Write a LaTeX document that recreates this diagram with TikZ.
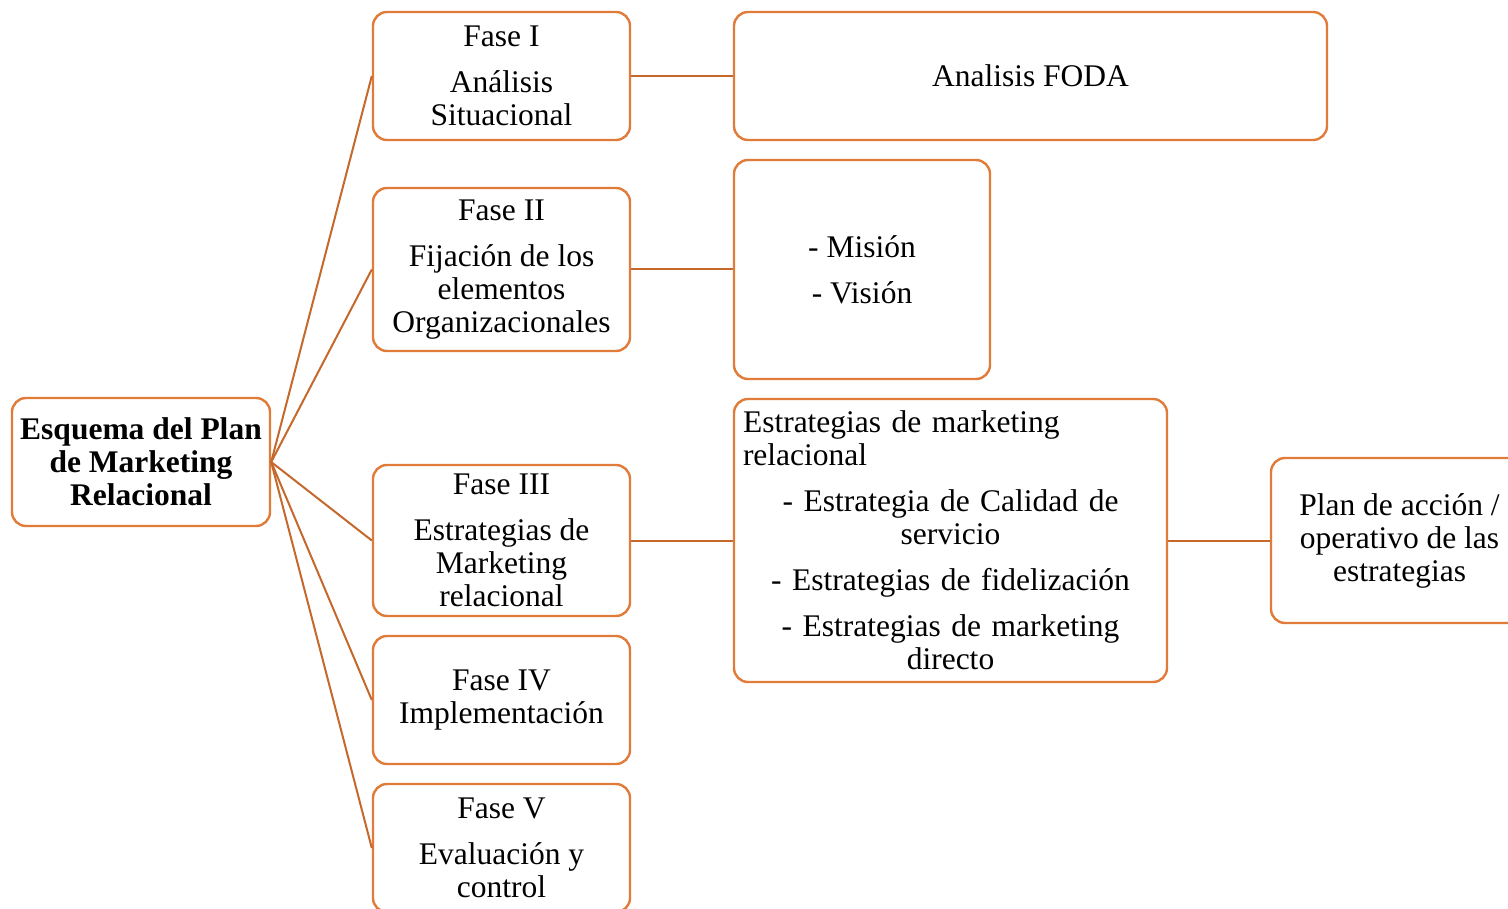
\documentclass[tikz,border=0pt]{standalone}
\usepackage{fontspec}
\setmainfont{Liberation Serif}
\definecolor{boxc}{HTML}{E07B39}
\definecolor{linec}{HTML}{C4682C}
\begin{document}
\begin{tikzpicture}[x=1pt,y=-1pt,
  box/.style={draw=boxc, line width=2.4pt, rounded corners=14pt, inner sep=0pt, align=center,
    font=\fontsize{31.5}{33}\selectfont, fill=white},
  conn/.style={draw=linec, line width=2pt}]
\useasboundingbox (0,0) rectangle (1508,909);
\node[box, minimum width=258, minimum height=128, font=\fontsize{31.5}{33}\selectfont\bfseries] (root) at (141,462) {Esquema del Plan\\de Marketing\\Relacional};
\node[box, minimum width=257, minimum height=128] (f1) at (501.5,76) {Fase I\\[13pt]Análisis\\Situacional};
\node[box, minimum width=257, minimum height=163] (f2) at (501.5,269.5) {Fase II\\[13pt]Fijación de los\\elementos\\Organizacionales};
\node[box, minimum width=257, minimum height=151] (f3) at (501.5,540.5) {Fase III\\[13pt]Estrategias de\\Marketing\\relacional};
\node[box, minimum width=257, minimum height=128] (f4) at (501.5,700) {Fase IV\\Implementación};
\node[box, minimum width=257, minimum height=128] (f5) at (501.5,848) {Fase V\\[13pt]Evaluación y\\control};
\node[box, minimum width=593, minimum height=128] (foda) at (1030.5,76) {Analisis FODA};
\node[box, minimum width=256, minimum height=219] (mision) at (862,269.5) {- Misión\\[13pt]- Visión};
\node[box, minimum width=433, minimum height=283, text width=415] (estr) at (950.5,540.5) {\makebox[\linewidth][l]{Estrategias de marketing}\\\makebox[\linewidth][l]{relacional}\\[13pt]- Estrategia de Calidad de\\servicio\\[13pt]- Estrategias de fidelización\\[13pt]- Estrategias de marketing\\directo};
\node[box, minimum width=257, minimum height=165] (plan) at (1399.5,540.5) {Plan de acción /\\operativo de las\\estrategias};
\foreach \t in {f1,f2,f3,f4,f5}{\draw[conn] (root.east) -- (\t.west);}
\draw[conn] (f1.east) -- (foda.west);
\draw[conn] (f2.east) -- (mision.west);
\draw[conn] (f3.east) -- (estr.west);
\draw[conn] (estr.east) -- (plan.west);
\end{tikzpicture}
\end{document}
